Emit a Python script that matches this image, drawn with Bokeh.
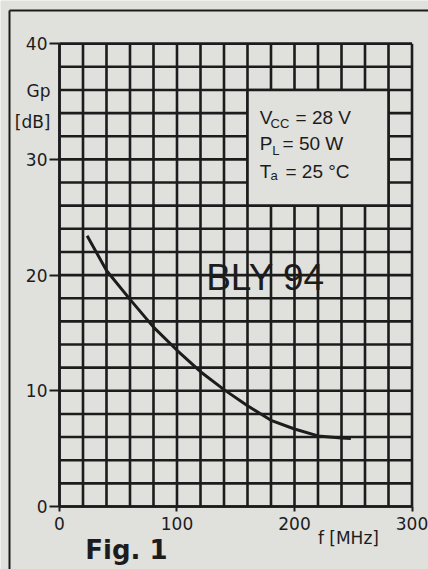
from bokeh.plotting import figure
from bokeh.models import FixedTicker, Label
from bokeh.embed import file_html
from bokeh.resources import INLINE

# ---- data ----
f_mhz = [23.5, 40, 60, 80, 100, 120, 140, 160, 180, 200, 220, 240, 248]
gp_db = [23.4, 20.4, 17.9, 15.5, 13.5, 11.65, 10.1, 8.7, 7.45, 6.7, 6.1, 5.93, 5.88]

x_ticks = [0, 100, 200, 300]
y_ticks = [0, 10, 20, 30, 40]
x_grid = list(range(0, 301, 20))
y_grid = list(range(0, 41, 2))

# conditions box (grid left open there)
box_left, box_right, box_bottom, box_top = [160], [280], [26], [36]

PAPER = "#e0e0dd"
INK = "#1c1c1c"
FONT = "DejaVu Sans"
FONT2 = "Liberation Sans"

# frame covers the whole canvas; the 0..300 / 0..40 chart sits inside it
p = figure(width=428, height=569, output_backend="svg", toolbar_location=None,
           x_range=(-50.21, 314.04), y_range=(-5.445, 43.73),
           min_border=0, min_border_left=0, min_border_right=0,
           min_border_top=0, min_border_bottom=0)
p.background_fill_color = PAPER
p.border_fill_color = PAPER
p.outline_line_color = None
p.grid.visible = False

# axes drawn at the chart's origin
p.xaxis.fixed_location = 0
p.yaxis.fixed_location = 0
p.xaxis.bounds = (0, 300)
p.yaxis.bounds = (0, 40)
p.xaxis.ticker = FixedTicker(ticks=x_ticks)
p.yaxis.ticker = FixedTicker(ticks=y_ticks)
for ax in (p.xaxis, p.yaxis):
    ax.axis_line_color = INK
    ax.axis_line_width = 2.5
    ax.major_tick_line_color = INK
    ax.major_tick_line_width = 2
    ax.major_tick_in = 0
    ax.minor_tick_line_color = None
    ax.major_label_text_font = FONT
    ax.major_label_text_font_size = "17px"
    ax.major_label_text_color = INK
p.yaxis.major_tick_out = 10
p.yaxis.major_label_standoff = 2
p.xaxis.major_tick_out = 5
p.xaxis.major_label_standoff = 6

# chart grid (every 20 MHz / 2 dB)
p.segment(x0=x_grid, y0=[0] * len(x_grid), x1=x_grid, y1=[40] * len(x_grid),
          line_color=INK, line_width=2.6)
p.segment(x0=[0] * len(y_grid), y0=y_grid, x1=[300] * len(y_grid), y1=y_grid,
          line_color=INK, line_width=2.6)

# open box for the conditions
p.quad(left=box_left, right=box_right, bottom=box_bottom, top=box_top,
       fill_color=PAPER, line_color=INK, line_width=2.6)

# curve
p.line(f_mhz, gp_db, line_color=INK, line_width=3)

def lab(x, y, text, size, align="left", baseline="alphabetic", font=FONT2, style="normal"):
    p.add_layout(Label(x=x, y=y, text=text, text_font=font, text_font_size=size,
                       text_color=INK, text_align=align, text_baseline=baseline,
                       text_font_style=style))

# conditions text
lab(170.5, 33.65, "V", "19px")
lab(179.6, 33.08, "CC", "13px")
lab(200.9, 33.65, "= 28 V", "19px")
lab(170.5, 31.35, "P", "19px")
lab(181.0, 30.77, "L", "13px")
lab(189.8, 31.35, "= 50 W", "19px")
lab(170.5, 28.98, "T", "19px")
lab(179.6, 28.6, "a", "13px")
lab(192.3, 28.98, "= 25 °C", "19px")

# device name
lab(175.3, 19.75, "BLY 94", "37px", align="center", baseline="middle")

# axis titles
lab(-7.66, 35.87, "Gp", "17px", align="right", font=FONT)
lab(-7.66, 33.19, "[dB]", "17px", align="right", font=FONT)
lab(245.9, -2.75, "f [MHz]", "17px", align="center", baseline="middle", font=FONT)

# figure caption
lab(57.0, -3.8, "Fig. 1", "26px", align="center", baseline="middle", font=FONT, style="bold")

# page frame lines
p.segment(x0=[-42.55, -42.55], y0=[42.87, 42.87], x1=[-42.55, 314.04], y1=[-5.445, 42.87],
          line_color=INK, line_width=2)

open("out.html", "w").write(file_html(p, INLINE))
